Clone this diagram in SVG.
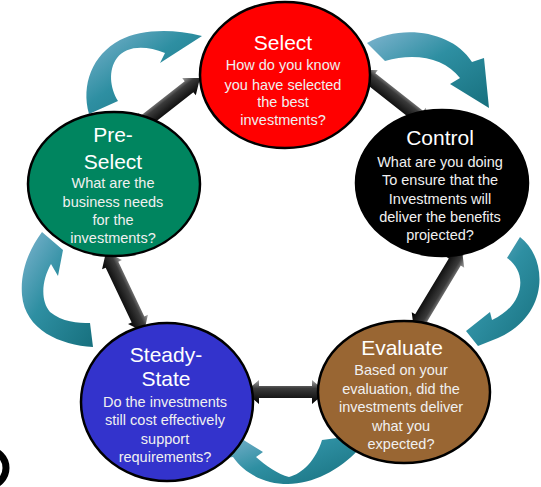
<svg xmlns="http://www.w3.org/2000/svg" width="541" height="487" viewBox="0 0 541 487">
<defs>
<linearGradient id="teal" x1="0" y1="0" x2="1" y2="1">
<stop offset="0" stop-color="#7fb4cf"/>
<stop offset="0.45" stop-color="#2e8fa2"/>
<stop offset="1" stop-color="#17707e"/>
</linearGradient>
<linearGradient id="dark" x1="0" y1="0" x2="0" y2="1">
<stop offset="0" stop-color="#a8a8a8"/>
<stop offset="0.35" stop-color="#3a3a3a"/>
<stop offset="1" stop-color="#000"/>
</linearGradient>
<style>
.ell{stroke:#000;stroke-width:2.5}
.curve{fill:url(#teal)}
.dbl{fill:url(#dark)}
.t{font-family:"Liberation Sans",Arial,sans-serif;fill:#fff;text-anchor:middle;font-size:21px}
.b{font-family:"Liberation Sans",Arial,sans-serif;fill:#f0f0f0;text-anchor:middle;font-size:14.5px}
</style>
</defs>
<rect width="541" height="487" fill="#fff"/>
<g id="connectors">
<path class="curve" d="M89,114 C81,85 92,55 120,40 C140,30 170,28 202,36 L160,63 L165,53 C145,45 126,46 117,58 C108,70 110,88 118,101 Z"/>
<path class="curve" d="M367,43 C400,24 452,30 472,62 L484,58 L489,108 L450,84 L460,78 C445,58 415,52 385,61 Z"/>
<path class="curve" d="M520,237 C548,258 550,315 498,338 L478,346 L466,331 L490,312 L492,320 C525,305 528,272 507,258 Z"/>
<path class="curve" d="M322,440 C316,460 302,474 289,477 C278,474 266,466 256,457 L263,452 L234,434 L226,458 L233,457 C245,474 265,484 288,484 C312,484 340,470 358,450 L352,436 Z"/>
<path class="curve" d="M93,347 C60,345 25,330 22,295 C20,270 30,248 42,232 L63,250 L58,276 L51,264 C42,280 40,300 50,312 C62,322 78,323 90,323 Z"/>
<path class="dbl" transform="translate(134,130) rotate(-38.2)" d="M0,0 L14,-11 L14,-7 L70,-7 L70,-11 L84,0 L70,11 L70,7 L14,7 L14,11 Z"/>
<path class="dbl" transform="translate(360,70) rotate(38.2)" d="M0,0 L14,-11 L14,-7 L75,-7 L75,-11 L89,0 L75,11 L75,7 L14,7 L14,11 Z"/>
<path class="dbl" transform="translate(462,250) rotate(121)" d="M0,0 L14,-11 L14,-7 L79.3,-7 L79.3,-11 L93.3,0 L79.3,11 L79.3,7 L14,7 L14,11 Z"/>
<path class="dbl" transform="translate(106,252) rotate(64.6)" d="M0,0 L14,-11 L14,-7 L74.6,-7 L74.6,-11 L88.6,0 L74.6,11 L74.6,7 L14,7 L14,11 Z"/>
<path class="dbl" transform="translate(245,392)" d="M0,0 L14,-12 L14,-6 L67,-6 L67,-12 L81,0 L67,12 L67,6 L14,6 L14,12 Z"/>
</g>
<g id="select">
<ellipse class="ell" cx="285" cy="75" rx="85" ry="73" fill="#ff0000"/>
<text class="t" x="283" y="50">Select</text>
<text class="b" x="283" y="70">How do you know</text>
<text class="b" x="283" y="90">you have selected</text>
<text class="b" x="283" y="107">the best</text>
<text class="b" x="283" y="125">investments?</text>
</g>
<g id="pre-select">
<ellipse class="ell" cx="114" cy="184" rx="86" ry="72" fill="#00855f"/>
<text class="t" x="113" y="142">Pre-</text>
<text class="t" x="113" y="169">Select</text>
<text class="b" x="113" y="188">What are the</text>
<text class="b" x="113" y="207">business needs</text>
<text class="b" x="113" y="225">for the</text>
<text class="b" x="113" y="243">investments?</text>
</g>
<g id="control">
<ellipse class="ell" cx="442" cy="183" rx="86" ry="73" fill="#000"/>
<text class="t" x="440" y="145">Control</text>
<text class="b" x="440" y="167">What are you doing</text>
<text class="b" x="440" y="185">To ensure that the</text>
<text class="b" x="440" y="204">Investments will</text>
<text class="b" x="440" y="222">deliver the benefits</text>
<text class="b" x="440" y="240">projected?</text>
</g>
<g id="steady-state">
<ellipse class="ell" cx="167" cy="402" rx="86" ry="79" fill="#3333cc"/>
<text class="t" x="166" y="362">Steady-</text>
<text class="t" x="166" y="386">State</text>
<text class="b" x="165" y="407">Do the investments</text>
<text class="b" x="165" y="425">still cost effectively</text>
<text class="b" x="165" y="444">support</text>
<text class="b" x="165" y="462">requirements?</text>
</g>
<g id="evaluate">
<ellipse class="ell" cx="404" cy="392" rx="86" ry="71" fill="#996633"/>
<text class="t" x="402" y="355">Evaluate</text>
<text class="b" x="401" y="375">Based on your</text>
<text class="b" x="401" y="394">evaluation, did the</text>
<text class="b" x="401" y="412">investments deliver</text>
<text class="b" x="401" y="431">what you</text>
<text class="b" x="401" y="449">expected?</text>
</g>
<circle cx="-12" cy="468" r="18" fill="#fff" stroke="#000" stroke-width="7"/>
</svg>
